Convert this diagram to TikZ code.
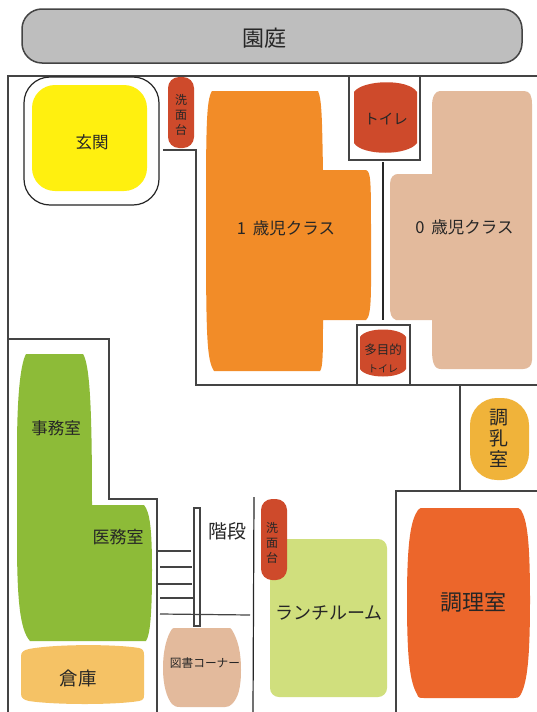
\documentclass[tikz,border=0pt]{standalone}
\usepackage{fontspec}
\setmainfont{Noto Sans CJK JP}
\definecolor{wall}{HTML}{444444}
\definecolor{garden}{HTML}{BEBEBE}
\definecolor{entry}{HTML}{FFF00F}
\definecolor{redroom}{HTML}{CE4A2B}
\definecolor{orangeroom}{HTML}{F28C28}
\definecolor{peach}{HTML}{E3BA9C}
\definecolor{milk}{HTML}{F0B33A}
\definecolor{green1}{HTML}{8DBB38}
\definecolor{store}{HTML}{F5C265}
\definecolor{lunch}{HTML}{D0DF7D}
\definecolor{kitchen}{HTML}{EC662B}
\definecolor{ink}{HTML}{262626}
\tikzset{
  wallline/.style={draw=wall,line width=1.4pt,line join=miter},
  thinline/.style={draw=ink,line width=1.2pt},
  lab/.style={text=ink,inner sep=0pt,align=center},
  fsz/.style n args={2}{font=\fontsize{#1}{#2}\selectfont},
}
\begin{document}
\begin{tikzpicture}[x=1pt,y=-1pt]
\useasboundingbox (0,0) rectangle (537,712);
\fill[white] (0,0) rectangle (537,712);
% garden
\draw[fill=garden,draw=wall,line width=1.5pt,rounded corners=20pt] (22,9) rectangle (522,63);
% walls
\draw[wallline] (537,76) -- (8,76) -- (8,712);
\draw[wallline] (8,339) -- (109,339) -- (109,499) -- (157,499) -- (157,712);
\draw[wallline] (163,150) -- (196,150) -- (196,385) -- (537,385);
\draw[wallline] (349,77) -- (349,160) -- (420,160) -- (420,77);
\draw[thinline] (383,162) -- (383,320);
\draw[wallline] (357,385) -- (357,325) -- (410,325) -- (410,386);
\draw[wallline] (460,385) -- (460,491);
\draw[wallline] (537,491) -- (396,491) -- (396,712);
\draw[thinline] (254,497) -- (253,712);
% stairs
\draw[wallline,line width=1.2pt] (158,551) -- (191,551);
\draw[wallline,line width=1.2pt] (160,567) -- (192,567);
\draw[wallline,line width=1.2pt] (158,584) -- (192,584);
\draw[wallline,line width=1.2pt] (160,598) -- (193,598);
\draw[wallline,line width=1.2pt] (160,614) -- (250,615);
\draw[wallline,line width=1.2pt] (194,508) rectangle (200,626);
% entrance
\draw[draw=ink,line width=1.2pt,fill=white,rounded corners=26pt] (24,77) rectangle (159,205);
\fill[entry,rounded corners=23pt] (32,85) rectangle (147,191);
% sink 1
\fill[redroom,rounded corners=11pt] (168,77) rectangle (194,148);
% class 1
\fill[orangeroom] (212,91) -- (318,91) .. controls (322,100) and (322,120) .. (323,170)
  -- (366,170) .. controls (371,172) and (371,180) .. (371,240)
  .. controls (371,290) and (372,316) .. (366,320) -- (323,320)
  .. controls (323,350) and (323,368) .. (320,371) -- (214,371)
  .. controls (207,360) and (206,340) .. (206,230) .. controls (206,130) and (206,100) .. (212,91) -- cycle;
% toilet
\fill[redroom] (354,92) .. controls (362,80) and (408,78) .. (417,92) -- (417,143)
  .. controls (408,156) and (362,156) .. (354,143) -- cycle;
% class 0
\fill[peach] (440,91) -- (524,91) .. controls (530,91) and (532,96) .. (532,104) -- (532,360)
  .. controls (532,366) and (528,369) .. (523,369) -- (441,369)
  .. controls (434,369) and (432,362) .. (432,350) -- (432,320) -- (396,320)
  .. controls (391,318) and (390,314) .. (390,306) -- (390,184)
  .. controls (390,177) and (394,174) .. (398,174) -- (432,174) -- (432,106)
  .. controls (432,97) and (435,91) .. (440,91) -- cycle;
% multipurpose toilet
\fill[redroom] (360,337) .. controls (366,327) and (400,327) .. (406,337) -- (406,369)
  .. controls (400,379) and (366,379) .. (360,369) -- cycle;
% milk
\fill[milk,rounded corners=27pt] (470,398) rectangle (529,480);
% office
\fill[green1] (26,354) -- (83,354) .. controls (90,365) and (92,410) .. (92,505)
  -- (144,505) .. controls (150,512) and (152,530) .. (152,570)
  .. controls (152,615) and (150,635) .. (146,641) -- (30,641)
  .. controls (20,630) and (17,600) .. (17,540) -- (17,450)
  .. controls (17,400) and (20,365) .. (26,354) -- cycle;
% store
\fill[store] (29,649) .. controls (55,644) and (115,644) .. (139,648)
  .. controls (143,649) and (144,651) .. (144,655) -- (144,695)
  .. controls (144,699) and (143,700) .. (139,701)
  .. controls (115,705) and (55,705) .. (29,701)
  .. controls (24,700) and (21,698) .. (21,694) -- (21,656)
  .. controls (21,652) and (24,650) .. (29,649) -- cycle;
% library
\fill[peach] (172,629) .. controls (173,628) and (174,628) .. (176,628) -- (228,628)
  .. controls (230,628) and (231,628) .. (232,630)
  .. controls (238,640) and (241,652) .. (241,670)
  .. controls (241,688) and (238,698) .. (232,704)
  .. controls (230,706) and (228,707) .. (225,707) -- (180,707)
  .. controls (176,707) and (174,706) .. (172,704)
  .. controls (167,698) and (163,686) .. (163,668)
  .. controls (163,650) and (167,636) .. (172,629) -- cycle;
% lunch
\fill[lunch,rounded corners=9pt] (270,539) rectangle (387,697);
% sink 2
\fill[redroom,rounded corners=11pt] (261,499) rectangle (287,580);
% kitchen
\fill[kitchen] (418,510) .. controls (419,508) and (421,508) .. (424,508) -- (514,508)
  .. controls (518,508) and (520,508) .. (521,510)
  .. controls (527,520) and (530,540) .. (530,600)
  .. controls (530,660) and (527,682) .. (521,694)
  .. controls (519,698) and (517,698) .. (514,698) -- (424,698)
  .. controls (420,698) and (418,698) .. (417,694)
  .. controls (410,682) and (407,660) .. (407,600)
  .. controls (407,540) and (411,520) .. (418,510) -- cycle;
% labels
\node[lab,fsz={22}{26}] (tgarden) at (264,38) {園庭};
\node[lab,fsz={16.5}{20}] (tentry) at (92,142) {玄関};
\node[lab,fsz={12}{15}] (tsink1) at (181,115) {洗\\面\\台};
\node[lab,fsz={16.5}{20}] (tclass1) at (286,228) {1\hspace{7pt}歳児クラス};
\node[lab,fsz={14.5}{18}] (ttoilet) at (386,119) {トイレ};
\node[lab,fsz={16.5}{20}] (tclass0) at (464.5,227) {0\hspace{7pt}歳児クラス};
\node[lab,fsz={12.5}{18}] (tmulti) at (383,358) {多目的\\{\fontsize{10}{18}\selectfont トイレ}};
\node[lab,fsz={19}{21}] (tmilk) at (499,438) {調\\乳\\室};
\node[lab,fsz={16.5}{20}] (toffice) at (56,428) {事務室};
\node[lab,fsz={17}{20}] (tmedical) at (118,537) {医務室};
\node[lab,fsz={19}{22}] (tstairs) at (227,531) {階段};
\node[lab,fsz={18.5}{22}] (tstore) at (78,678) {倉庫};
\node[lab,fsz={11.7}{14}] (tlibrary) at (205,663) {図書コーナー};
\node[lab,fsz={12}{15}] (tsink2) at (272,543) {洗\\面\\台};
\node[lab,fsz={18}{22}] (tlunch) at (329,613) {ランチルーム};
\node[lab,fsz={22}{26}] (tkitchen) at (473,602) {調理室};
\end{tikzpicture}
\end{document}
